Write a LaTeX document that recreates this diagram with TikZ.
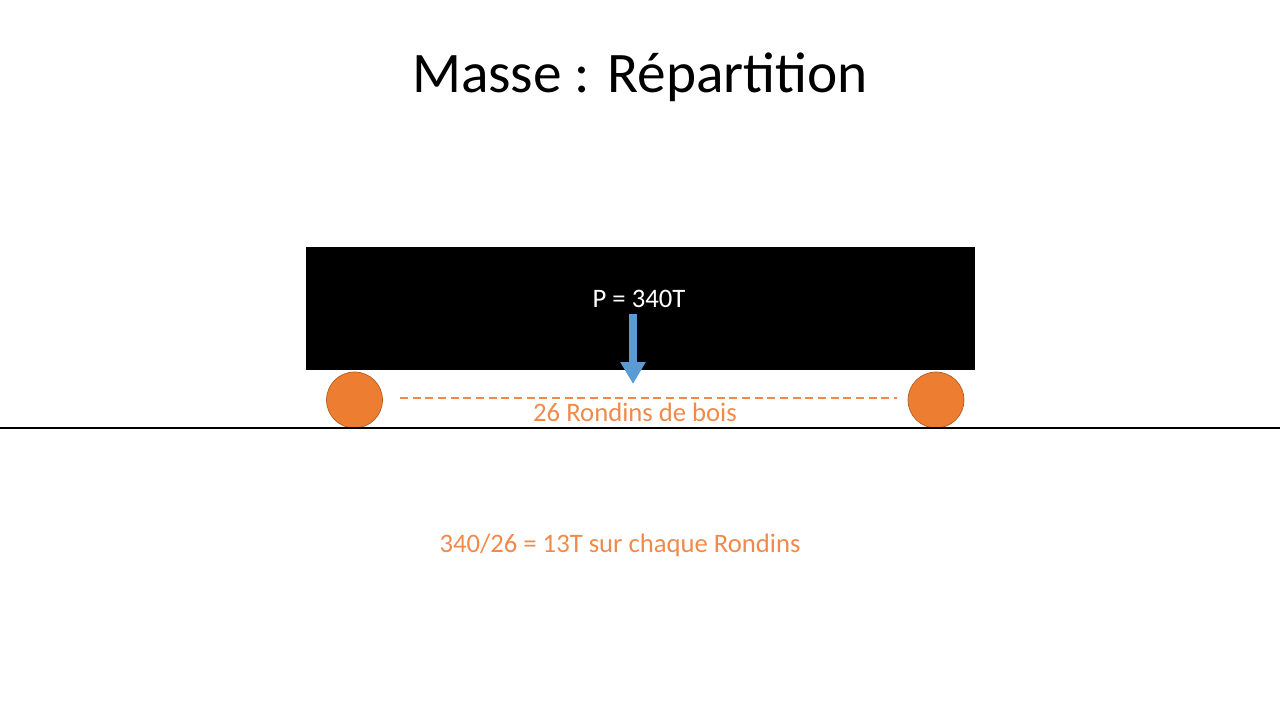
\documentclass[tikz,border=0pt]{standalone}
\usepackage{fontspec}
\setmainfont{Carlito}
\usetikzlibrary{arrows.meta}
\definecolor{orangebois}{HTML}{ED7D31}
\definecolor{orangebord}{HTML}{AE5A21}
\definecolor{orangetxt}{HTML}{F08A4B}
\definecolor{bleuforce}{HTML}{5B9BD5}
\tikzset{
  rondinbox/.style={circle,fill=orangebois,draw=orangebord,line width=0.5pt,minimum size=42pt,inner sep=0pt},
  legende/.style={text=orangetxt,font=\fontsize{20}{24}\selectfont,inner sep=0pt}
}
\begin{document}
\begin{tikzpicture}[x=0.75pt,y=-0.75pt]
      \useasboundingbox (0,0) rectangle (1280,720);
      \node[font=\fontsize{43}{52}\selectfont,inner sep=0pt] (titre) at (640,77) {Masse : Répartition};
      \node[fill=black,minimum width=501.75pt,minimum height=92.25pt,inner sep=0pt] (bloc) at (640.5,308.5) {};
      \node[text=white,font=\fontsize{20}{24}\selectfont,inner sep=0pt] (P) at (639,299) {P = 340T};
      \coordinate (Fhaut) at (633,314);
      \coordinate (Fbas) at (633,384);
      \draw[bleuforce,line width=6pt,-{Triangle[width=18pt,length=16.5pt]}] (Fhaut) -- (Fbas);
      \node[rondinbox] (R1) at (354.5,400) {};
      \node[rondinbox] (R2) at (936,400) {};
      \coordinate (sol1) at (0,428);
      \coordinate (sol2) at (1280,428);
      \draw[line width=1.5pt] (sol1) -- (sol2);
      \coordinate (d1) at (400,398);
      \coordinate (d2) at (897,398);
      \draw[orangetxt,line width=1.2pt,dash pattern=on 6pt off 3.5pt] (d1) -- (d2);
      \node[legende] (nb) at (635,412) {26 Rondins de bois};
      \node[legende] (calcul) at (620,545) {340/26 = 13T sur chaque Rondins};
\end{tikzpicture}
\end{document}
